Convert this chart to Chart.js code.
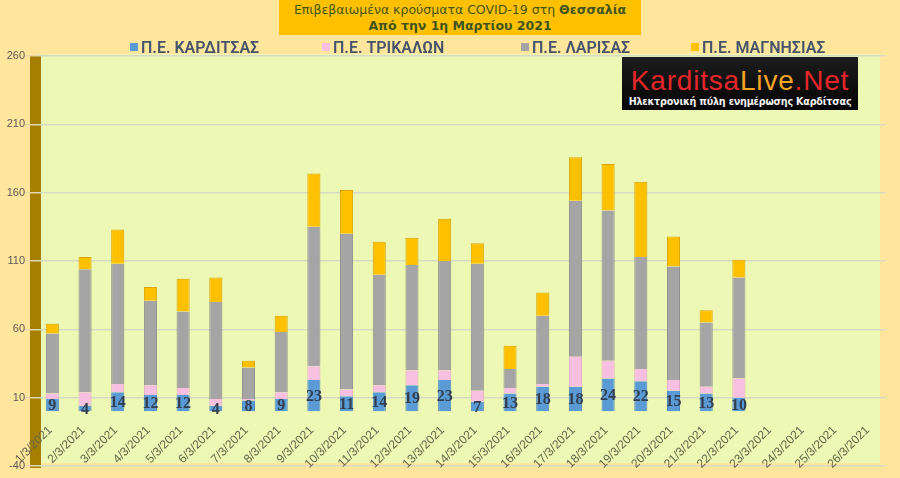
<!DOCTYPE html>
<html>
<head>
<meta charset="utf-8">
<script src="https://cdn.jsdelivr.net/npm/chart.js@4"></script>
<style>
  html, body { margin: 0; padding: 0; background: #ffe69c; }
  #wrap { position: relative; width: 900px; height: 478px; overflow: hidden; }
  #title {
    position: absolute; left: 279px; top: 0; width: 362px; height: 35px;
    background: #ffc000; color: #3f5520; text-align: center;
    font: 12.5px "DejaVu Sans", sans-serif; line-height: 16px; padding-top: 2px; box-sizing: border-box;
  }
  #title b { font-weight: bold; }
  #legend { position: absolute; left: 0; top: 38px; width: 900px; height: 20px; }
  #legend div {
    position: absolute; top: 0; font: 600 16px Roboto, sans-serif; color: #44546a; white-space: nowrap;
  }
  #legend span.box { display: inline-block; width: 8px; height: 8px; margin-right: 3px; vertical-align: 2px; }
  #logo {
    position: absolute; left: 622px; top: 57px; width: 236px; height: 53px;
    background: linear-gradient(#1c1c1c, #050505); text-align: center; overflow: hidden;
  }
  #logo .big { font: 28px "Liberation Sans", sans-serif; color: #e3262b; margin-top: 9px; line-height: 29px; letter-spacing: 0.8px; }
  #logo .big i { font-style: normal; color: #f3a421; }
  #logo .small { font: bold 9.6px "DejaVu Sans", sans-serif; color: #f2f2f2; margin-top: 1px; letter-spacing: -0.2px; }
  canvas { position: absolute; left: 0; top: 0; }
</style>
</head>
<body>
<div id="wrap">
  <canvas id="myChart" width="900" height="478"></canvas>
  <div id="title">Επιβεβαιωμένα κρούσματα COVID-19 στη <b>Θεσσαλία</b><br><b>Από την 1η Μαρτίου 2021</b></div>
  <div id="legend"></div>
  <div id="logo">
    <div class="big">Karditsa<i>Live</i>.Net</div>
    <div class="small">Ηλεκτρονική πύλη ενημέρωσης Καρδίτσας</div>
  </div>
</div>
<script>
const labels = [
  "1/3/2021", "2/3/2021", "3/3/2021", "4/3/2021", "5/3/2021", "6/3/2021",
  "7/3/2021", "8/3/2021", "9/3/2021", "10/3/2021", "11/3/2021", "12/3/2021",
  "13/3/2021", "14/3/2021", "15/3/2021", "16/3/2021", "17/3/2021", "18/3/2021",
  "19/3/2021", "20/3/2021", "21/3/2021", "22/3/2021", "23/3/2021", "24/3/2021",
  "25/3/2021", "26/3/2021",
];
const karditsa = [9, 4, 14, 12, 12, 4, 8, 9, 23, 11, 14, 19, 23, 7, 13, 18, 18, 24, 22, 15, 13, 10];
const trikala = [4, 10, 6, 7, 5, 5, 1, 5, 10, 5, 5, 11, 7, 8, 4, 2, 22, 13, 9, 8, 5, 14];
const larisa = [44, 90, 88, 62, 56, 71, 23, 44, 102, 114, 81, 77, 80, 93, 14, 50, 114, 110, 82, 83, 47, 74];
const magnisia = [7, 9, 25, 10, 24, 18, 5, 12, 39, 32, 24, 20, 31, 15, 17, 17, 32, 34, 55, 22, 9, 13];
const yTicks = [-40, 10, 60, 110, 160, 210, 260];

const seriesNames = ["Π.Ε. ΚΑΡΔΙΤΣΑΣ", "Π.Ε. ΤΡΙΚΑΛΩΝ", "Π.Ε. ΛΑΡΙΣΑΣ", "Π.Ε. ΜΑΓΝΗΣΙΑΣ"];
const colors = ["#5b9bd5", "#f7bfe0", "#a5a5a5", "#ffc000"];
const edges = ["#4a86bd", "#e3a6c9", "#8c8c8c", "#d9a300"];
const legendLeft = [130, 322, 521, 691];

// φόντο περιοχής σχεδίασης και ο "τοίχος" αριστερά
const plotBackground = {
  id: "plotBackground",
  beforeDraw(chart) {
    const { ctx, chartArea: a } = chart;
    ctx.save();
    ctx.fillStyle = "#ecf8b3";
    ctx.fillRect(a.left + 5, a.top - 2, a.right - a.left - 11, a.bottom - a.top - 1);
    ctx.fillStyle = "#a77f00";
    ctx.fillRect(a.left - 6, a.top, 11, a.bottom - a.top + 2);
    ctx.restore();
  },
};

// ετικέτες ημερομηνιών κάτω από το μηδέν, πλάγιες
const dateLabels = {
  id: "dateLabels",
  afterDatasetsDraw(chart) {
    const { ctx, scales } = chart;
    const y0 = scales.y.getPixelForValue(0);
    ctx.save();
    ctx.font = "12px 'Liberation Sans', sans-serif";
    ctx.fillStyle = "#66664a";
    ctx.textAlign = "right";
    ctx.textBaseline = "middle";
    labels.forEach((lab, i) => {
      const x = scales.x.getPixelForValue(i);
      ctx.save();
      ctx.translate(x - 2, y0 + 17);
      ctx.rotate(-Math.PI / 4);
      ctx.fillText(lab, 0, 0);
      ctx.restore();
    });
    ctx.restore();
  },
};

// τιμές Καρδίτσας πάνω στα μπλε κομμάτια
const karditsaLabels = {
  id: "karditsaLabels",
  afterDatasetsDraw(chart) {
    const { ctx } = chart;
    const meta = chart.getDatasetMeta(0);
    ctx.save();
    ctx.font = "bold 16px 'Liberation Serif', serif";
    ctx.fillStyle = "#333f4f";
    ctx.textAlign = "center";
    ctx.textBaseline = "middle";
    meta.data.forEach((bar, i) => {
      const v = karditsa[i];
      if (v === undefined) return;
      ctx.fillText(String(v), bar.x, (bar.y + bar.base) / 2 + 1);
    });
    ctx.restore();
  },
};

const data = {
  labels: labels,
  datasets: [karditsa, trikala, larisa, magnisia].map((values, i) => ({
    label: seriesNames[i],
    data: values,
    backgroundColor: colors[i],
    borderColor: edges[i],
    borderWidth: { left: 1, right: 1, top: i === 3 ? 1 : 0, bottom: 0 },
    borderSkipped: false,
    barPercentage: 0.4,
    categoryPercentage: 1,
  })),
};

const options = {
  responsive: false,
  animation: false,
  layout: { padding: { top: 56, bottom: 12, right: 14, left: 0 } },
  plugins: {
    legend: { display: false },
    tooltip: { enabled: false },
  },
  scales: {
    x: {
      stacked: true,
      display: false,
    },
    y: {
      stacked: true,
      min: -40,
      max: 260,
      afterBuildTicks: (scale) => {
        scale.ticks = yTicks.map((v) => ({ value: v }));
      },
      afterFit: (scale) => {
        scale.width = 36;
      },
      grid: { color: "#d5dbc2", lineWidth: 1.5, drawTicks: true, tickLength: 11, tickColor: "#e6d9a6" },
      border: { display: false },
      ticks: {
        color: "#595959",
        font: { size: 11, family: "'Liberation Sans', sans-serif" },
        padding: 0,
      },
    },
  },
};

const chart = new Chart(document.getElementById("myChart"), {
  type: "bar",
  data: data,
  options: options,
  plugins: [plotBackground, dateLabels, karditsaLabels],
});

// υπόμνημα από τα ίδια τα datasets
const legend = document.getElementById("legend");
chart.data.datasets.forEach((ds, i) => {
  const item = document.createElement("div");
  item.style.left = legendLeft[i] + "px";
  item.innerHTML = '<span class="box" style="background:' + ds.backgroundColor + '"></span>' + ds.label;
  legend.appendChild(item);
});
</script>
</body>
</html>
